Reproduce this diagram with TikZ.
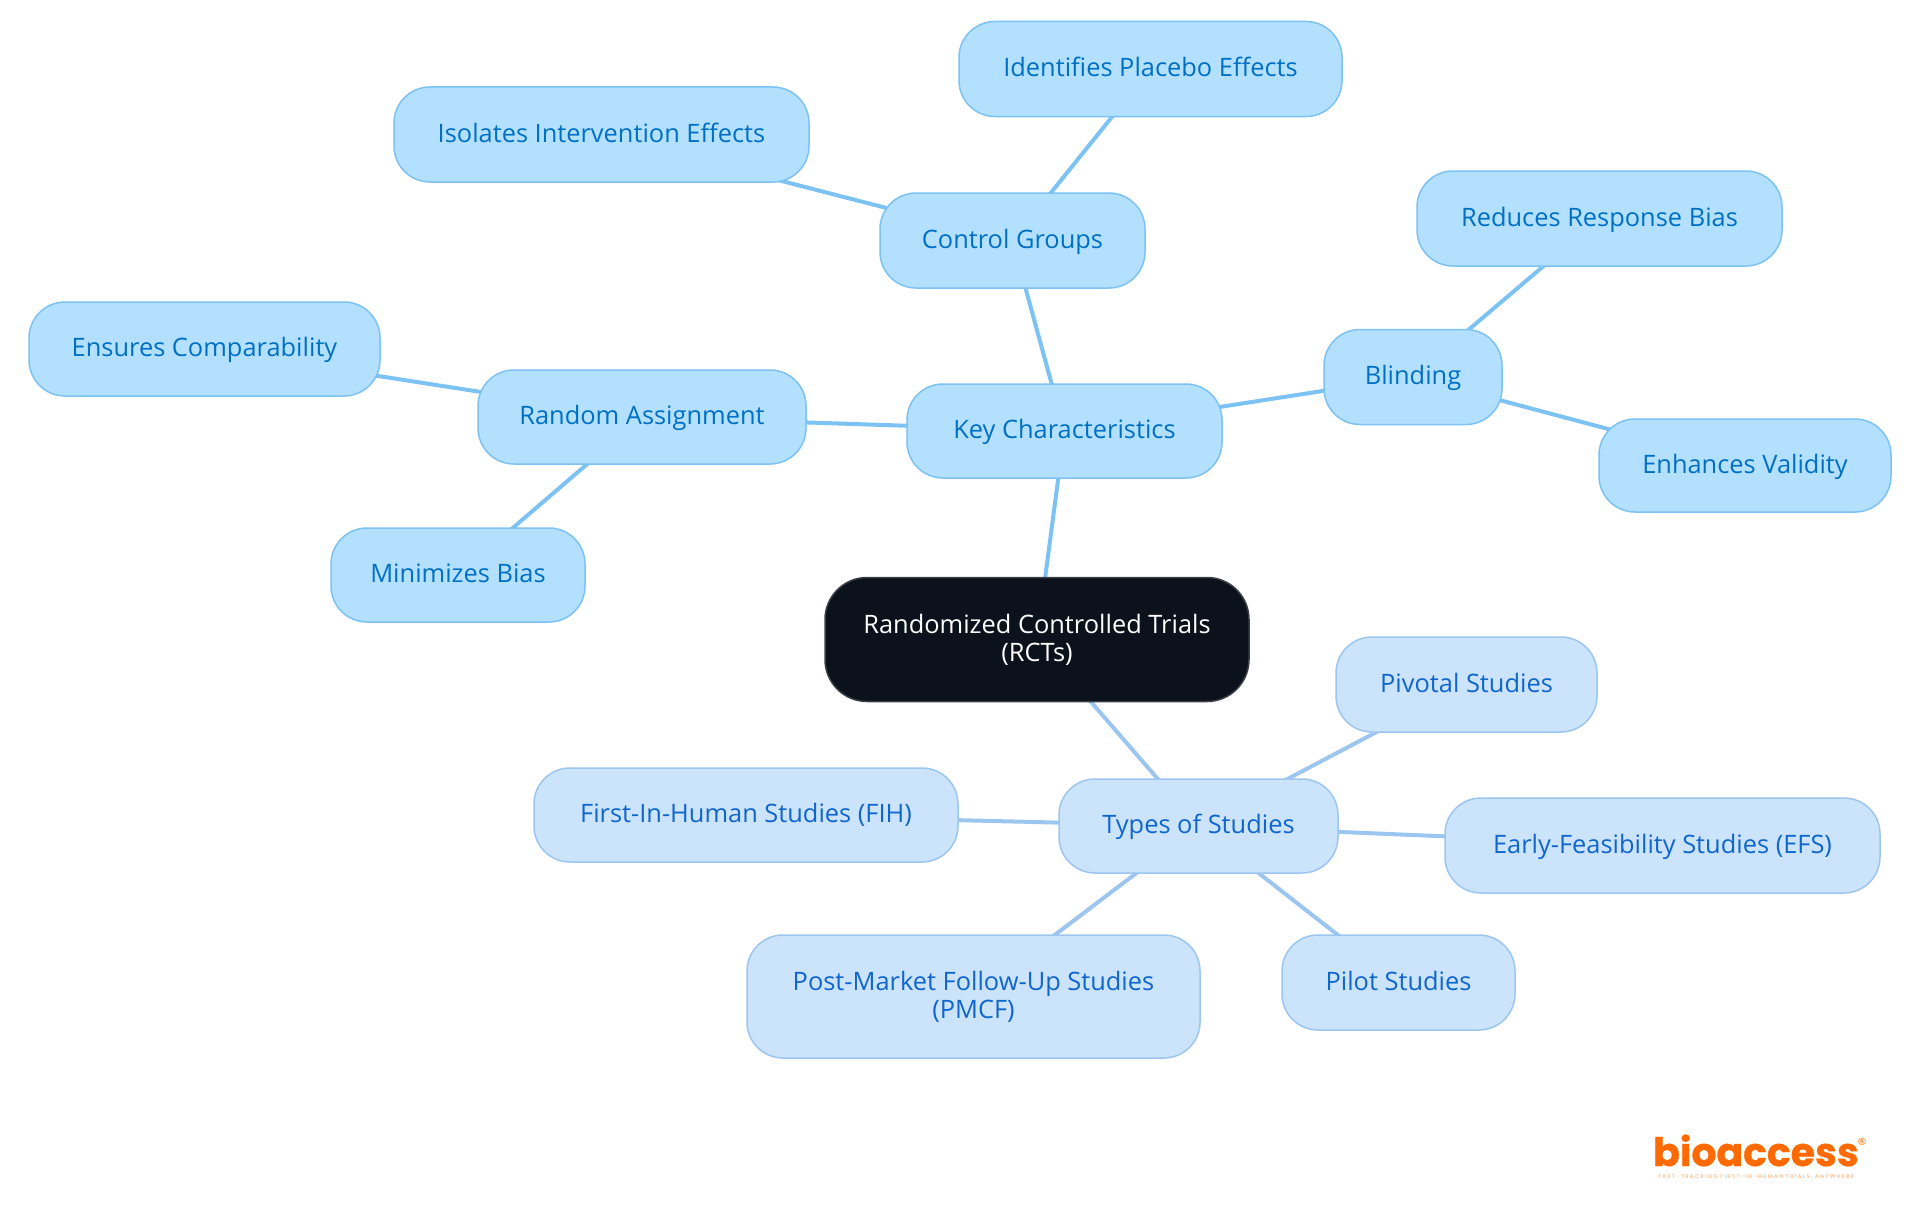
\documentclass[tikz,border=0pt]{standalone}
\usepackage{fontspec}
\setmainfont{Open Sans}
\newfontfamily\logofont[FakeBold=0.8]{Poppins}
\newfontfamily\tagfont[LetterSpace=25]{Poppins}
\usetikzlibrary{positioning,backgrounds}
\definecolor{rootfill}{HTML}{0B121B}
\definecolor{rootline}{HTML}{3C4046}
\definecolor{keyfill}{HTML}{B3E0FF}
\definecolor{keyline}{HTML}{7CC2F2}
\definecolor{keytext}{HTML}{0070C4}
\definecolor{typefill}{HTML}{CCE3FC}
\definecolor{typeline}{HTML}{9CC6F0}
\definecolor{typetext}{HTML}{0F66CC}
\definecolor{logoorange}{HTML}{FF6A00}

\begin{document}
\begin{tikzpicture}[
		x=1pt,y=-1pt,
		on grid,
		basebox/.style={
				align=center,
				font=\fontsize{25.4}{28}\selectfont,
				inner sep=0pt,
				line width=1.5pt
			},
		oneline/.style={text height=21.5pt,text depth=6pt},
		rootbox/.style={basebox,fill=rootfill,draw=rootline,text=white,rounded corners=42pt},
		keybox/.style={basebox,oneline,fill=keyfill,draw=keyline,text=keytext,rounded corners=36pt},
		typebox/.style={basebox,fill=typefill,draw=typeline,text=typetext,rounded corners=36pt},
		keyedge/.style={draw=keyline,line width=4pt},
		typeedge/.style={draw=typeline,line width=4pt}
	]
	\useasboundingbox (0,0) rectangle (1920,1215);
	% root
	\node[rootbox,minimum width=424pt,minimum height=124pt] (rct) at (1037,639.5) {Randomized Controlled Trials\\(RCTs)};
	% key characteristics
	\node[keybox,minimum width=315pt,minimum height=94pt,above right=208.5pt and 27.5pt of rct] (key) {Key Characteristics};
	\node[keybox,minimum width=265pt,minimum height=95pt,above left=190.5pt and 52pt of key] (ctrl) {Control Groups};
	\node[keybox,minimum width=383pt,minimum height=95pt,above right=171.5pt and 138pt of ctrl] (placebo) {Identifies Placebo Effects};
	\node[keybox,minimum width=415pt,minimum height=95pt,above left=106pt and 411pt of ctrl] (isolate) {Isolates Intervention Effects};
	\node[keybox,minimum width=178pt,minimum height=95pt,above right=54pt and 348.5pt of key] (blind) {Blinding};
	\node[keybox,minimum width=365pt,minimum height=95pt,above right=158.5pt and 186.5pt of blind] (reduce) {Reduces Response Bias};
	\node[keybox,minimum width=292pt,minimum height=93pt,below right=88.5pt and 332pt of blind] (valid) {Enhances Validity};
	\node[keybox,minimum width=328pt,minimum height=94pt,above left=14pt and 422.5pt of key] (assign) {Random Assignment};
	\node[keybox,minimum width=351pt,minimum height=94pt,above left=68pt and 437.5pt of assign] (compare) {Ensures Comparability};
	\node[keybox,minimum width=254pt,minimum height=94pt,below left=158pt and 184pt of assign] (bias) {Minimizes Bias};
	% types of studies
	\node[typebox,oneline,minimum width=279pt,minimum height=94pt,below right=186.5pt and 161.5pt of rct] (types) {Types of Studies};
	\node[typebox,oneline,minimum width=424pt,minimum height=94pt,above left=11pt and 452.5pt of types] (fih) {First-In-Human Studies (FIH)};
	\node[typebox,oneline,minimum width=261pt,minimum height=95pt,above right=141.5pt and 268pt of types] (pivotal) {Pivotal Studies};
	\node[typebox,oneline,minimum width=435pt,minimum height=95pt,below right=19.5pt and 464pt of types] (efs) {Early-Feasibility Studies (EFS)};
	\node[typebox,oneline,minimum width=233pt,minimum height=95pt,below right=156.5pt and 200pt of types] (pilot) {Pilot Studies};
	\node[typebox,minimum width=453pt,minimum height=123pt,below left=170.5pt and 225pt of types] (pmcf) {Post-Market Follow-Up Studies\\(PMCF)};
	% connectors under the boxes
	\begin{scope}[on background layer]
		\draw[keyedge] (rct.center) -- (key.center);
		\draw[keyedge] (key.center) -- (ctrl.center);
		\draw[keyedge] (ctrl.center) -- (placebo.center);
		\draw[keyedge] (ctrl.center) -- (isolate.center);
		\draw[keyedge] (key.center) -- (blind.center);
		\draw[keyedge] (blind.center) -- (reduce.center);
		\draw[keyedge] (blind.center) -- (valid.center);
		\draw[keyedge] (key.center) -- (assign.center);
		\draw[keyedge] (assign.center) -- (compare.center);
		\draw[keyedge] (assign.center) -- (bias.center);
		\draw[typeedge] (rct.center) -- (types.center);
		\draw[typeedge] (types.center) -- (fih.center);
		\draw[typeedge] (types.center) -- (pivotal.center);
		\draw[typeedge] (types.center) -- (efs.center);
		\draw[typeedge] (types.center) -- (pilot.center);
		\draw[typeedge] (types.center) -- (pmcf.center);
	\end{scope}
	% logo
	\node[text=logoorange,inner sep=0pt,text height=30pt,text depth=0pt,font=\logofont\bfseries\fontsize{39.3}{40}\selectfont] (logo) at (1756,1151) {bioaccess};
	\node[text=logoorange,inner sep=0pt,font=\tagfont\fontsize{5.5}{6}\selectfont,below=26pt of logo,opacity=.6] (tagline) {FAST-TRACKING FIRST-IN-HUMAN TRIALS, ANYWHERE};
	\node[text=logoorange,inner sep=0pt,font=\fontsize{10}{10}\selectfont,right=106pt of logo,yshift=9pt] (regmark) {®};
\end{tikzpicture}
\end{document}
